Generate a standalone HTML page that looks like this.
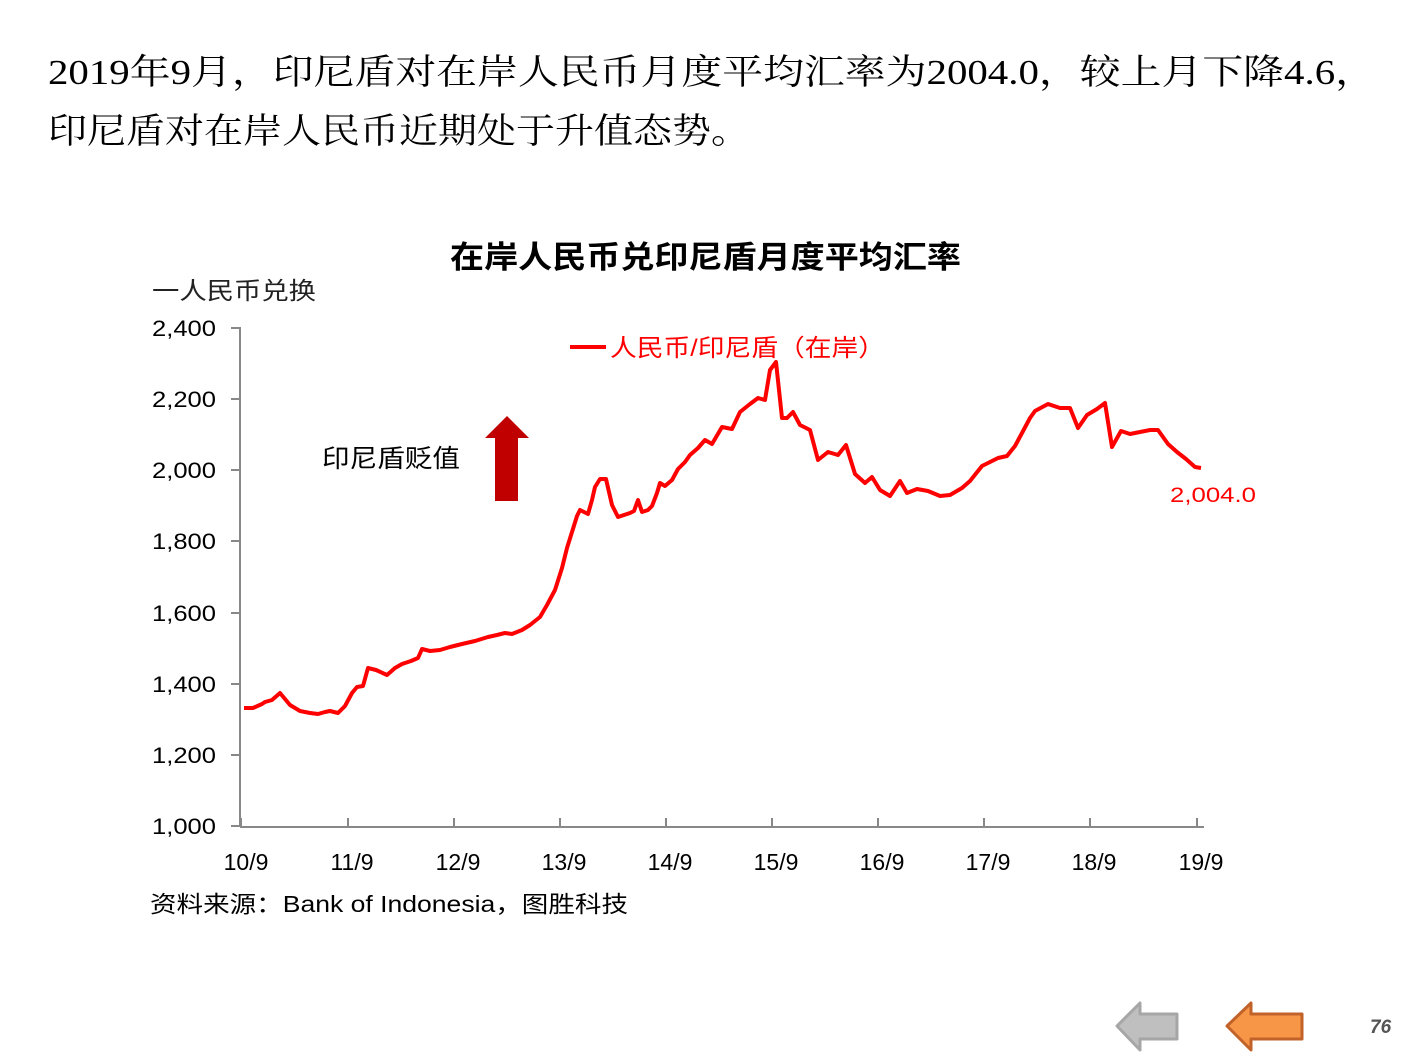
<!DOCTYPE html>
<html><head><meta charset="utf-8"><style>
body{margin:0;background:#fff;}
svg{display:block}
</style></head><body>
<svg width="1411" height="1058" viewBox="0 0 1411 1058" xmlns="http://www.w3.org/2000/svg">
<g font-family="'Liberation Serif','Noto Serif CJK SC',serif" font-size="35" fill="#000">
<text x="48" y="84" textLength="1328" lengthAdjust="spacingAndGlyphs">2019年9月，印尼盾对在岸人民币月度平均汇率为2004.0，较上月下降4.6，</text>
<text x="48" y="143" textLength="702" lengthAdjust="spacingAndGlyphs">印尼盾对在岸人民币近期处于升值态势。</text>
</g>
<text x="450" y="268" textLength="511" lengthAdjust="spacingAndGlyphs" font-family="'Liberation Sans','Noto Sans CJK SC',sans-serif" font-size="31" font-weight="bold">在岸人民币兑印尼盾月度平均汇率</text>
<text x="152" y="299" textLength="164" lengthAdjust="spacingAndGlyphs" font-family="'Liberation Sans','Noto Sans CJK SC',sans-serif" font-size="24" fill="#222">一人民币兑换</text>
<g stroke="#888" stroke-width="2" fill="none">
<line x1="240" y1="327" x2="240" y2="827"/>
<line x1="240" y1="827" x2="1204" y2="827"/>
<path d="M231 328H240M231 399H240M231 470H240M231 541H240M231 613H240M231 684H240M231 755H240M231 826H240"/>
<path d="M241 827V818M348 827V818M454 827V818M560 827V818M666 827V818M772 827V818M878 827V818M984 827V818M1090 827V818M1197 827V818"/>
</g>
<g font-family="'Liberation Sans','Noto Sans CJK SC',sans-serif" font-size="22" fill="#000" text-anchor="end">
<text x="216" y="336" textLength="64" lengthAdjust="spacingAndGlyphs">2,400</text><text x="216" y="407" textLength="64" lengthAdjust="spacingAndGlyphs">2,200</text><text x="216" y="478" textLength="64" lengthAdjust="spacingAndGlyphs">2,000</text><text x="216" y="549" textLength="64" lengthAdjust="spacingAndGlyphs">1,800</text><text x="216" y="621" textLength="64" lengthAdjust="spacingAndGlyphs">1,600</text><text x="216" y="692" textLength="64" lengthAdjust="spacingAndGlyphs">1,400</text><text x="216" y="763" textLength="64" lengthAdjust="spacingAndGlyphs">1,200</text><text x="216" y="834" textLength="64" lengthAdjust="spacingAndGlyphs">1,000</text>
</g>
<g font-family="'Liberation Sans','Noto Sans CJK SC',sans-serif" font-size="23" fill="#000" text-anchor="middle">
<text x="246" y="870">10/9</text><text x="352" y="870">11/9</text><text x="458" y="870">12/9</text><text x="564" y="870">13/9</text><text x="670" y="870">14/9</text><text x="776" y="870">15/9</text><text x="882" y="870">16/9</text><text x="988" y="870">17/9</text><text x="1094" y="870">18/9</text><text x="1201" y="870">19/9</text>
</g>
<text x="150" y="912" textLength="478" lengthAdjust="spacingAndGlyphs" font-family="'Liberation Sans','Noto Sans CJK SC',sans-serif" font-size="23" fill="#000">资料来源：Bank of Indonesia，图胜科技</text>
<line x1="570" y1="347" x2="606" y2="347" stroke="#ff0000" stroke-width="4"/>
<text x="610" y="356" textLength="275" lengthAdjust="spacingAndGlyphs" font-family="'Liberation Sans','Noto Sans CJK SC',sans-serif" font-size="24" fill="#ff0000">人民币/印尼盾（在岸）</text>
<text x="322" y="467" textLength="138" lengthAdjust="spacingAndGlyphs" font-family="'Liberation Sans','Noto Sans CJK SC',sans-serif" font-size="25" fill="#000">印尼盾贬值</text>
<polygon points="495,501 518,501 518,438 529,438 507,416 485,438 495,438" fill="#c00000"/>
<text x="1170" y="502" textLength="86" lengthAdjust="spacingAndGlyphs" font-family="'Liberation Sans',sans-serif" font-size="21" fill="#ff0000">2,004.0</text>
<polyline fill="none" stroke="#ff0000" stroke-width="4" stroke-linejoin="round" points="244,708 253,708 262,704 265,702 272,700 280,693 290,705 300,711 310,713 318,714 325,712 330,711 338,713 345,706 352,693 357,687 363,686 368,668 376,670 387,675 395,668 402,664 411,661 418,658 422,649 430,651 440,650 450,647 462,644 475,641 488,637 497,635 505,633 512,634 522,630 530,625 540,617 547,605 555,590 562,568 567,548 572,532 577,516 580,510 588,514 592,500 595,487 600,479 606,479 612,505 618,517 624,515 630,513 634,511 638,500 642,512 648,510 652,506 657,493 660,483 665,486 672,480 678,469 685,462 690,455 698,448 705,440 712,444 722,427 732,429 740,412 750,404 758,398 765,400 770,370 776,362 782,418 787,418 793,412 800,425 810,430 818,460 828,452 838,455 846,445 855,474 865,483 872,477 880,490 890,496 900,481 907,493 917,489 928,491 940,496 950,495 962,488 970,481 982,466 990,462 998,458 1007,456 1015,446 1022,433 1030,418 1035,411 1048,404 1060,408 1070,408 1078,428 1087,415 1097,409 1105,403 1112,447 1121,431 1130,434 1140,432 1150,430 1158,430 1168,444 1177,452 1186,459 1195,467 1201,468"/>
<polygon points="1117,1026 1140,1003 1140,1014 1177,1014 1177,1039 1140,1039 1140,1050" fill="#bfbfbf" stroke="#a6a6a6" stroke-width="3" stroke-linejoin="round"/>
<polygon points="1227,1026 1251,1003 1251,1014 1302,1014 1302,1039 1251,1039 1251,1050" fill="#f79646" stroke="#c0622a" stroke-width="3" stroke-linejoin="round"/>
<text x="1370" y="1033" font-family="'Liberation Sans',sans-serif" font-size="19" font-style="italic" font-weight="bold" fill="#555">76</text>
</svg>
</body></html>
